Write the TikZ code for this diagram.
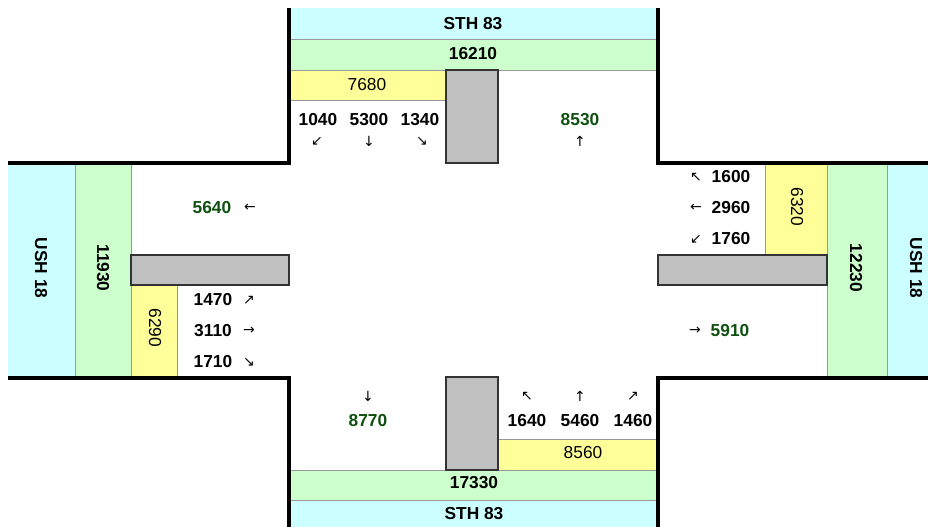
\documentclass[tikz,border=0pt]{standalone}
\usepackage{fontspec}
\setmainfont{Liberation Sans}
\newfontfamily\arrowfont{DejaVu Sans}
\usetikzlibrary{positioning}
\definecolor{roadblue}{RGB}{204,255,255}
\definecolor{roadgreen}{RGB}{204,255,204}
\definecolor{laneyellow}{RGB}{255,255,153}
\definecolor{mediangray}{RGB}{192,192,192}
\definecolor{flowgreen}{RGB}{16,80,16}
\begin{document}
\begin{tikzpicture}[
        x=0.75pt, y=-0.75pt,
        sep/.style={draw=black!40, line width=0.7pt},
        median/.style={draw=black!80, fill=mediangray, line width=1.3pt},
        curb/.style={draw=black, line width=2.3pt, line join=miter},
        every node/.style={inner sep=0pt, font=\fontsize{13}{15}\selectfont\bfseries},
        lane/.style={font=\fontsize{13}{15}\selectfont},
        flow/.style={text=flowgreen},
        arr/.style={font=\fontsize{10.5}{12}\arrowfont}
    ]
    \useasboundingbox (0,0) rectangle (928,527);

    % bands on the approaches
    \fill[roadblue] (289,8) rectangle (658,39);
    \fill[roadgreen] (289,39) rectangle (658,70);
    \fill[laneyellow] (289,70) rectangle (446,100);
    \fill[roadblue] (289,500) rectangle (658,527);
    \fill[roadgreen] (289,470) rectangle (658,500);
    \fill[laneyellow] (498,439) rectangle (658,470);
    \fill[roadblue] (8,163) rectangle (75,378);
    \fill[roadgreen] (75,163) rectangle (131,378);
    \fill[laneyellow] (131,285) rectangle (177,378);
    \fill[roadblue] (887,163) rectangle (928,378);
    \fill[roadgreen] (827,163) rectangle (887,378);
    \fill[laneyellow] (765,163) rectangle (827,255);

    \draw[sep] (289,39) -- (658,39) (289,70) -- (658,70) (289,100) -- (446,100);
    \draw[sep] (289,500) -- (658,500) (289,470) -- (658,470) (498,439) -- (658,439);
    \draw[sep] (75,163) -- (75,378) (131,163) -- (131,378) (177,285) -- (177,378);
    \draw[sep] (887,163) -- (887,378) (827,163) -- (827,378) (765,163) -- (765,255);

    % medians
    \draw[median] (446,70) rectangle (498,163);
    \draw[median] (446,377) rectangle (498,470);
    \draw[median] (131,255) rectangle (289,285);
    \draw[median] (658,255) rectangle (827,285);

    % curbs
    \draw[curb] (289,8) -- (289,163) -- (8,163);
    \draw[curb] (658,8) -- (658,163) -- (928,163);
    \draw[curb] (8,378) -- (289,378) -- (289,527);
    \draw[curb] (928,378) -- (658,378) -- (658,527);

    % north approach
    \node (nameN) at (473,24) {STH 83};
    \node (totN) at (473,54) {16210};
    \node[lane] (inN) at (367,85) {7680};
    \node (nL) at (318,120) {1040};
    \node (nT) at (369,120) {5300};
    \node (nR) at (420,120) {1340};
    \node[arr] (nLa) at (317,141) {↙};
    \node[arr] (nTa) at (369,141) {↓};
    \node[arr] (nRa) at (422,141) {↘};
    \node[flow] (outN) at (580,120) {8530};
    \node[arr] (outNa) at (580,141) {↑};

    % west approach
    \node[rotate=-90] (nameW) at (41,268) {USH 18};
    \node[rotate=-90] (totW) at (103,268) {11930};
    \node[lane, rotate=-90] (inW) at (155,328) {6290};
    \node[flow] (outW) at (212,208) {5640};
    \node[arr] (outWa) at (250,208) {←};
    \node (wL) at (213,300) {1470};
    \node (wT) at (213,331) {3110};
    \node (wR) at (213,362) {1710};
    \node[arr] (wLa) at (249,300) {↗};
    \node[arr] (wTa) at (249,331) {→};
    \node[arr] (wRa) at (249,362) {↘};

    % east approach
    \node[rotate=-90] (nameE) at (916,268) {USH 18};
    \node[rotate=-90] (totE) at (856,268) {12230};
    \node[lane, rotate=-90] (inE) at (797,207) {6320};
    \node (eR) at (731,177) {1600};
    \node (eT) at (731,208) {2960};
    \node (eL) at (731,239) {1760};
    \node[arr] (eRa) at (696,177) {↖};
    \node[arr] (eTa) at (696,208) {←};
    \node[arr] (eLa) at (696,239) {↙};
    \node[flow] (outE) at (730,331) {5910};
    \node[arr] (outEa) at (695,331) {→};

    % south approach
    \node[arr] (outSa) at (368,396) {↓};
    \node[flow] (outS) at (368,421) {8770};
    \node[arr] (sLa) at (527,396) {↖};
    \node[arr] (sTa) at (580,396) {↑};
    \node[arr] (sRa) at (633,396) {↗};
    \node (sL) at (527,421) {1640};
    \node (sT) at (580,421) {5460};
    \node (sR) at (633,421) {1460};
    \node[lane] (inS) at (583,453) {8560};
    \node (totS) at (474,483) {17330};
    \node (nameS) at (474,514) {STH 83};
\end{tikzpicture}
\end{document}
